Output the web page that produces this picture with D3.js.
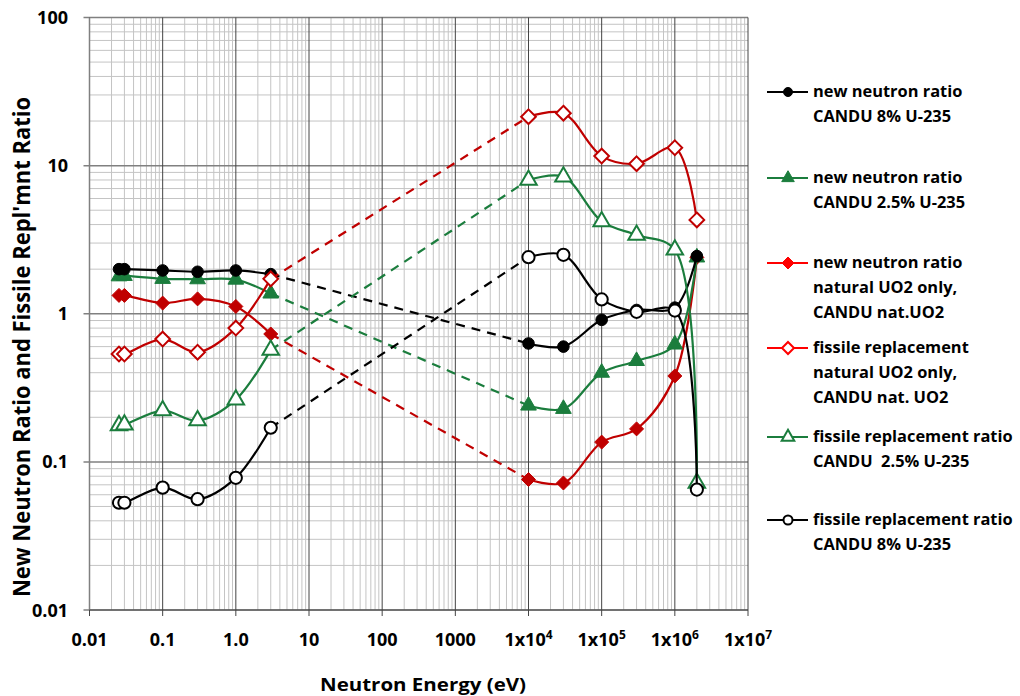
<!DOCTYPE html>
<html>
<head>
<meta charset="utf-8">
<title>Neutron ratio chart</title>
<script src="https://cdn.jsdelivr.net/npm/d3@7"></script>
<style>
  body { margin: 0; background: #fff; }
  text { font-family: "Open Sans", Lato, sans-serif; font-weight: 700; fill: #000; }
</style>
</head>
<body>
<script>
// energies (eV) shared by all series
var energy = [0.0253, 0.03, 0.1, 0.3, 1.0, 3, 1e4, 3e4, 1e5, 3e5, 1e6, 2e6];

// series values
var nn8   = [2.0, 2.0, 1.96, 1.92, 1.96, 1.85, 0.63, 0.60, 0.91, 1.06, 1.1, 2.45];
var nn25  = [1.79, 1.80, 1.72, 1.71, 1.70, 1.37, 0.24, 0.228, 0.40, 0.48, 0.62, 2.4];
var nnNat = [1.33, 1.33, 1.18, 1.26, 1.12, 0.73, 0.076, 0.072, 0.136, 0.167, 0.38, 2.4];
var frNat = [0.535, 0.535, 0.675, 0.55, 0.80, 1.72, 21.4, 22.6, 11.6, 10.3, 13.2, 4.3];
var fr25  = [0.176, 0.178, 0.222, 0.19, 0.263, 0.57, 8.0, 8.4, 4.2, 3.4, 2.7, 0.072];
var fr8   = [0.053, 0.053, 0.067, 0.056, 0.078, 0.17, 2.41, 2.5, 1.25, 1.03, 1.05, 0.065];

var xTicks = [0.01, 0.1, 1, 10, 100, 1000, 1e4, 1e5, 1e6, 1e7];
var xTickLabels = ["0.01", "0.1", "1.0", "10", "100", "1000", "1x10|4", "1x10|5", "1x10|6", "1x10|7"];
var yTicks = [0.01, 0.1, 1, 10, 100];
var yTickLabels = ["0.01", "0.1", "1", "10", "100"];

var green = "#1b7d3d", red = "#c00000", brightRed = "#ff0000";

var series = [
  {name: ["new neutron ratio", "CANDU 8% U-235"], values: nn8, color: "#000", legColor: "#000", sym: "circle", open: false, legY: 92},
  {name: ["new neutron ratio", "CANDU 2.5% U-235"], values: nn25, color: green, legColor: green, sym: "triangle", open: false, legY: 178},
  {name: ["new neutron ratio", "natural UO2 only,", "CANDU nat.UO2"], values: nnNat, color: red, legColor: brightRed, sym: "diamond", open: false, legY: 263},
  {name: ["fissile replacement", "natural UO2 only,", "CANDU nat. UO2"], values: frNat, color: red, legColor: brightRed, sym: "diamond", open: true, legY: 348},
  {name: ["fissile replacement ratio", "CANDU  2.5% U-235"], values: fr25, color: green, legColor: green, sym: "triangle", open: true, legY: 437},
  {name: ["fissile replacement ratio", "CANDU 8% U-235"], values: fr8, color: "#000", legColor: "#000", sym: "circle", open: true, legY: 520}
];

var svg = d3.select("body").append("svg")
    .attr("width", 1020)
    .attr("height", 696);

var x = d3.scaleLog().domain([0.01, 1e7]).range([89.5, 748]);
var y = d3.scaleLog().domain([0.01, 100]).range([610, 17.5]);

// minor grid
var xMinor = [], yMinor = [];
for (var e = -2; e < 7; e++)
  for (var k = 2; k <= 9; k++) xMinor.push(k * Math.pow(10, e));
for (var e2 = -2; e2 < 2; e2++)
  for (var k2 = 2; k2 <= 9; k2++) yMinor.push(k2 * Math.pow(10, e2));

var grid = svg.append("g");
grid.selectAll(".xm").data(xMinor).enter().append("line")
    .attr("x1", function(d){ return x(d); }).attr("x2", function(d){ return x(d); })
    .attr("y1", y(100)).attr("y2", y(0.01))
    .attr("stroke", "#c4c4c4").attr("stroke-width", 1);
grid.selectAll(".ym").data(yMinor).enter().append("line")
    .attr("y1", function(d){ return y(d); }).attr("y2", function(d){ return y(d); })
    .attr("x1", x(0.01)).attr("x2", x(1e7))
    .attr("stroke", "#c4c4c4").attr("stroke-width", 1);
// major grid
grid.selectAll(".yM").data(yTicks).enter().append("line")
    .attr("y1", function(d){ return y(d); }).attr("y2", function(d){ return y(d); })
    .attr("x1", x(0.01) - 6).attr("x2", x(1e7))
    .attr("stroke", "#808080").attr("stroke-width", 1.5);
grid.selectAll(".xM").data(xTicks).enter().append("line")
    .attr("x1", function(d){ return x(d); }).attr("x2", function(d){ return x(d); })
    .attr("y1", y(100)).attr("y2", y(0.01) + 6)
    .attr("stroke", "#444").attr("stroke-width", 1);
// axis lines
svg.append("line").attr("x1", x(0.01)).attr("x2", x(0.01)).attr("y1", y(100)).attr("y2", y(0.01))
    .attr("stroke", "#808080").attr("stroke-width", 1.5);
svg.append("line").attr("x1", x(0.01)).attr("x2", x(1e7)).attr("y1", y(0.01)).attr("y2", y(0.01))
    .attr("stroke", "#444").attr("stroke-width", 1.2);

// tick labels
svg.selectAll(".ylab").data(yTicks).enter().append("text")
    .attr("x", 68).attr("y", function(d){ return y(d) + 6.5; })
    .attr("text-anchor", "end").style("font-size", "18px")
    .text(function(d, i){ return yTickLabels[i]; });

var xl = svg.selectAll(".xlab").data(xTicks).enter().append("text")
    .attr("x", function(d){ return x(d); }).attr("y", 646)
    .attr("text-anchor", "middle").style("font-size", "18px");
xl.each(function(d, i){
  var parts = xTickLabels[i].split("|");
  var t = d3.select(this);
  t.append("tspan").text(parts[0]);
  if (parts[1]) t.append("tspan").attr("dy", -7).style("font-size", "12px").text(parts[1]);
});

// axis titles
svg.append("text").attr("x", 423).attr("y", 691)
    .attr("text-anchor", "middle").style("font-size", "17px")
    .attr("textLength", 206).attr("lengthAdjust", "spacingAndGlyphs")
    .text("Neutron Energy (eV)");
svg.append("text")
    .attr("transform", "translate(30,347) rotate(-90)")
    .attr("text-anchor", "middle").style("font-size", "23px")
    .attr("textLength", 500).attr("lengthAdjust", "spacingAndGlyphs")
    .text("New Neutron Ratio and Fissile Repl'mnt Ratio");

// lines
var smooth = d3.line()
    .x(function(d){ return x(d[0]); })
    .y(function(d){ return y(d[1]); })
    .curve(d3.curveCatmullRom.alpha(0.5));

function symPath(s, r) {
  if (s === "diamond") return "M0," + (-r) + "L" + r + ",0L0," + r + "L" + (-r) + ",0Z";
  var type = s === "circle" ? d3.symbolCircle : d3.symbolTriangle;
  var size = s === "circle" ? Math.PI * r * r : r * r * 1.9;
  return d3.symbol().type(type).size(size)();
}
var symR = {circle: 5.8, triangle: 7.5, diamond: 7};

var drawOrder = [2, 1, 0, 3, 4, 5];
drawOrder.forEach(function(si){
  var s = series[si];
  var pts = energy.map(function(e, i){ return [e, s.values[i]]; });
  var g = svg.append("g");
  g.append("path").attr("d", smooth(pts.slice(0, 6)))
      .attr("fill", "none").attr("stroke", s.color).attr("stroke-width", 2.2);
  g.append("path").attr("d", smooth(pts.slice(6)))
      .attr("fill", "none").attr("stroke", s.color).attr("stroke-width", 2.2);
  g.append("line")
      .attr("x1", x(pts[5][0])).attr("y1", y(pts[5][1]))
      .attr("x2", x(pts[6][0])).attr("y2", y(pts[6][1]))
      .attr("stroke", s.color).attr("stroke-width", 2.2)
      .attr("stroke-dasharray", "9,7");
  g.selectAll(".m").data(pts).enter().append("path")
      .attr("transform", function(d){ return "translate(" + x(d[0]) + "," + y(d[1]) + ")"; })
      .attr("d", symPath(s.sym, s.open ? symR[s.sym] * 1.05 : symR[s.sym]))
      .attr("fill", s.open ? "#fff" : s.color)
      .attr("stroke", s.color).attr("stroke-width", s.open ? 2 : 1);
});

// legend
series.forEach(function(s){
  var lg = svg.append("g");
  lg.append("line").attr("x1", 767).attr("x2", 808).attr("y1", s.legY).attr("y2", s.legY)
      .attr("stroke", s.legColor).attr("stroke-width", 2.2);
  lg.append("path").attr("transform", "translate(788," + s.legY + ")")
      .attr("d", symPath(s.sym, s.sym === "circle" ? 4.5 : 6))
      .attr("fill", s.open ? "#fff" : s.legColor)
      .attr("stroke", s.legColor).attr("stroke-width", s.open ? 2 : 1);
  s.name.forEach(function(line, i){
    lg.append("text").attr("x", 813).attr("y", s.legY + 5 + i * 25)
        .style("font-size", "16.4px").style("white-space", "pre")
        .text(line);
  });
});
</script>
</body>
</html>
